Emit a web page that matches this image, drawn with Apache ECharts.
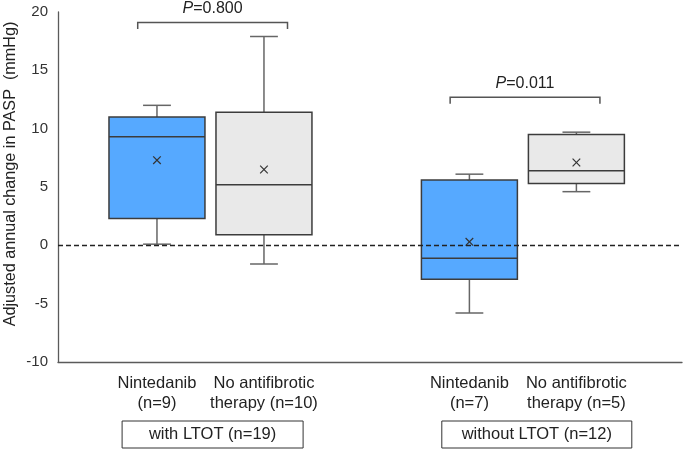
<!DOCTYPE html>
<html>
<head>
<meta charset="utf-8">
<script src="https://cdn.jsdelivr.net/npm/echarts@6/dist/echarts.min.js"></script>
<style>
  html, body { margin: 0; padding: 0; background: #fff; }
  #chart { width: 685px; height: 451px; }
</style>
</head>
<body>
<div id="chart"></div>
<script>
// treatment arms (x labels) and the LTOT group each belongs to
const categories = ['Nintedanib\n(n=9)', 'No antifibrotic\ntherapy (n=10)', 'Nintedanib\n(n=7)', 'No antifibrotic\ntherapy (n=5)']
const groupOf = [0, 0, 1, 1]
const groups = ['with LTOT (n=19)', 'without LTOT (n=12)']

// box statistics, mmHg
const whiskerLow = [0.1, -1.6, -5.8, 4.6]
const q1 = [2.3, 0.9, -2.9, 5.3]
const median = [9.3, 5.2, -1.1, 6.4]
const q3 = [11.0, 11.4, 5.6, 9.5]
const whiskerHigh = [12.0, 17.9, 6.1, 9.7]
const mean = [7.3, 6.5, 0.3, 7.1]

// comparisons inside each group
const pValues = ['0.800', '0.011']
const bracketY = [19.1, 12.7]

const yTicks = [-10, -5, 0, 5, 10, 15, 20]

// layout
const groupGap = 2.92
const pos = categories.map((c, i) => groupOf[i] * groupGap + (i % 2))
const groupLabelAt = [0.52, 3.55]
const boxW = 0.897
const FONT = 'Liberation Sans, Arial, sans-serif'
const colors = ['#56A9FF', '#E9E9E9']

const boxData = categories.map((c, i) => [pos[i], whiskerLow[i], q1[i], median[i], q3[i], whiskerHigh[i], mean[i], i % 2])
const bracketData = groups.map((g, k) => [pos[k * 2], pos[k * 2 + 1], bracketY[k], k])

const nearest = (arr, v) => {
    let best = 0
    for (let i = 1; i < arr.length; i++) {
        if (Math.abs(arr[i] - v) < Math.abs(arr[best] - v)) best = i
    }
    return best
}

function renderBox(params, api) {
    const x = api.value(0)
    const lo = api.coord([x, api.value(1)])
    const b1 = api.coord([x, api.value(2)])
    const md = api.coord([x, api.value(3)])
    const b3 = api.coord([x, api.value(4)])
    const hi = api.coord([x, api.value(5)])
    const mn = api.coord([x, api.value(6)])
    const w = api.size([boxW, 0])[0]
    const cap = w * 0.29
    const cx = lo[0]
    const whisk = { stroke: '#666', lineWidth: 1.5 }
    const edge = { stroke: '#3c3c3c', lineWidth: 1.5 }
    const m = 3.8
    return {
        type: 'group',
        children: [
            { type: 'line', shape: { x1: cx, y1: b3[1], x2: cx, y2: hi[1] }, style: whisk },
            { type: 'line', shape: { x1: cx - cap / 2, y1: hi[1], x2: cx + cap / 2, y2: hi[1] }, style: whisk },
            { type: 'line', shape: { x1: cx, y1: b1[1], x2: cx, y2: lo[1] }, style: whisk },
            { type: 'line', shape: { x1: cx - cap / 2, y1: lo[1], x2: cx + cap / 2, y2: lo[1] }, style: whisk },
            { type: 'rect', shape: { x: cx - w / 2, y: b3[1], width: w, height: b1[1] - b3[1] },
              style: { fill: colors[api.value(7)], stroke: '#3c3c3c', lineWidth: 1.5 } },
            { type: 'line', shape: { x1: cx - w / 2, y1: md[1], x2: cx + w / 2, y2: md[1] }, style: edge },
            { type: 'line', shape: { x1: cx - m, y1: mn[1] - m, x2: cx + m, y2: mn[1] + m }, style: { stroke: '#333', lineWidth: 1.2 } },
            { type: 'line', shape: { x1: cx - m, y1: mn[1] + m, x2: cx + m, y2: mn[1] - m }, style: { stroke: '#333', lineWidth: 1.2 } }
        ]
    }
}

function renderBracket(params, api) {
    const a = api.coord([api.value(0) - 0.18, api.value(2)])
    const b = api.coord([api.value(1) + 0.22, api.value(2)])
    const drop = 6.5
    const st = { stroke: '#555', lineWidth: 1.5, fill: 'none' }
    return {
        type: 'group',
        children: [
            { type: 'polyline', shape: { points: [[a[0], a[1] + drop], [a[0], a[1]], [b[0], b[1]], [b[0], b[1] + drop]] }, style: st },
            { type: 'text', style: {
                text: '{i|P}=' + pValues[api.value(3)],
                x: (a[0] + b[0]) / 2, y: a[1] - 14,
                align: 'center', verticalAlign: 'middle',
                font: '16px ' + FONT, fill: '#222',
                rich: { i: { fontStyle: 'italic', fontSize: 16, fontFamily: FONT, fill: '#222' } }
            } }
        ]
    }
}

const myChart = echarts.init(document.getElementById('chart'))
const option = {
    animation: false,
    textStyle: { fontFamily: FONT },
    grid: { left: 58, right: 3, top: 12, bottom: 89, outerBoundsMode: 'none', containLabel: false },
    xAxis: [{
        type: 'value',
        min: -0.925,
        max: 4.907,
        axisLine: { show: true, onZero: false, lineStyle: { color: '#5a5a5a', width: 1.3 } },
        axisTick: { show: false },
        splitLine: { show: false },
        axisLabel: {
            customValues: pos,
            formatter: v => categories[nearest(pos, v)],
            fontSize: 16.5,
            lineHeight: 20,
            margin: 11,
            color: '#222'
        }
    }, {
        type: 'value',
        position: 'bottom',
        offset: 0,
        min: -0.925,
        max: 4.907,
        axisLine: { show: false },
        axisTick: { show: false },
        splitLine: { show: false },
        axisLabel: {
            customValues: groupLabelAt,
            formatter: v => { const k = nearest(groupLabelAt, v); return '{g' + k + '|' + groups[k] + '}' },
            margin: 59,
            rich: {
                g0: { width: 181, height: 27, lineHeight: 27, align: 'center', fontSize: 16.5, color: '#222', borderColor: '#333', borderWidth: 1 },
                g1: { width: 190, height: 27, lineHeight: 27, align: 'center', fontSize: 16.5, color: '#222', borderColor: '#333', borderWidth: 1 }
            }
        }
    }],
    yAxis: {
        type: 'value',
        min: yTicks[0],
        max: yTicks[yTicks.length - 1],
        interval: 5,
        name: 'Adjusted annual change in PASP  (mmHg)',
        nameLocation: 'middle',
        nameGap: 39,
        nameMoveOverlap: false,
        nameTextStyle: { fontSize: 16.2, color: '#222', padding: [0, 0, 0, 26] },
        axisLine: { show: true, onZero: false, lineStyle: { color: '#5a5a5a', width: 1.3 } },
        axisTick: { show: false },
        splitLine: { show: false },
        axisLabel: { fontSize: 15, color: '#333', margin: 10 }
    },
    series: [{
        type: 'custom',
        renderItem: renderBox,
        encode: { x: 0, y: [1, 5] },
        data: boxData,
        markLine: {
            silent: true,
            symbol: 'none',
            label: { show: false },
            lineStyle: { type: [5, 3], color: '#222', width: 1.3 },
            data: [{ yAxis: 0 }]
        }
    }, {
        type: 'custom',
        renderItem: renderBracket,
        encode: { x: [0, 1], y: 2 },
        data: bracketData
    }]
}
myChart.setOption(option)
</script>
</body>
</html>
